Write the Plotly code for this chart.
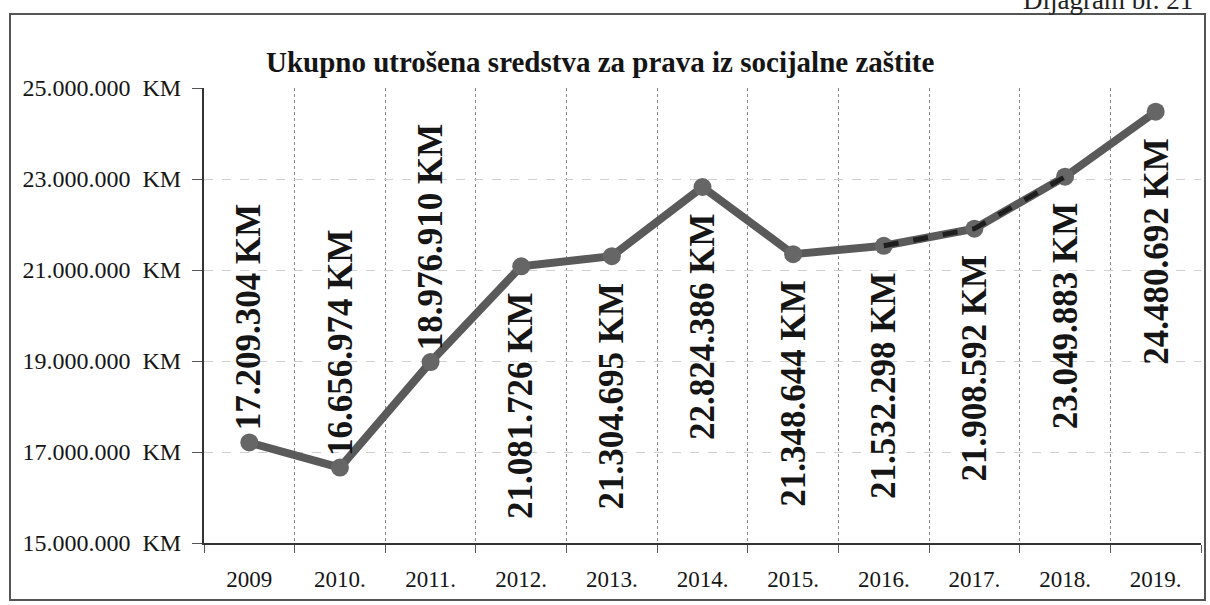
'''
    Line chart: total funds spent on social protection rights, 2009-2019.
'''
import plotly.graph_objects as go

YEARS = ['2009', '2010.', '2011.', '2012.', '2013.', '2014.',
         '2015.', '2016.', '2017.', '2018.', '2019.']
AMOUNTS = [17209304, 16656974, 18976910, 21081726, 21304695, 22824386,
           21348644, 21532298, 21908592, 23049883, 24480692]
Y_TICKS = [15000000, 17000000, 19000000, 21000000, 23000000, 25000000]

TITLE = 'Ukupno utrošena sredstva za prava iz socijalne zaštite'
SERIF = 'Liberation Serif, Times New Roman, serif'


def fmt_km(value):
    '''Formats a number the local way: 17.209.304 KM'''
    return f'{value:,}'.replace(',', '.') + ' KM'


def get_figure(years, amounts):
    '''
        Args: years, amounts: the series to display

        Returns:
            The figure to be displayed
    '''
    fig = go.Figure()

    fig.add_trace(go.Scatter(
        x=years,
        y=amounts,
        mode='lines+markers',
        line=dict(color='#5a5a5a', width=8),
        marker=dict(color='#666666', size=18),
        hoverinfo='skip',
    ))

    # darker dashed stretch visible on the scan between 2016 and 2018
    fig.add_trace(go.Scatter(
        x=years[7:10],
        y=amounts[7:10],
        mode='lines',
        line=dict(color='#1e1e1e', width=5, dash='dash'),
        hoverinfo='skip',
    ))

    # value labels, written vertically; x is the category index
    for i, amount in enumerate(amounts):
        above = i < 3
        fig.add_annotation(
            x=i,
            y=amount,
            text='<b>' + fmt_km(amount) + '</b>',
            textangle=-90,
            showarrow=False,
            xanchor='center',
            yanchor='bottom' if above else 'top',
            yshift=10 if above else -24,
            font=dict(family=SERIF, size=35, color='#151515'),
        )

    fig.update_layout(
        width=1210,
        height=605,
        margin=dict(l=204, r=9, t=88, b=62),
        paper_bgcolor='white',
        plot_bgcolor='white',
        showlegend=False,
        title={
            'text': '<b>' + TITLE + '</b>',
            'font': {'family': SERIF, 'size': 29, 'color': '#151515'},
            'x': 0.496,
            'xanchor': 'center',
            'y': 1 - 62 / 605,
            'yanchor': 'middle',
        },
    )

    fig.update_xaxes(
        type='category',
        range=[-0.5, len(years) - 0.5],
        automargin=False,
        tickson='boundaries',
        tickangle=0,
        showgrid=True,
        gridcolor='#8a8a8a',
        griddash='dot',
        gridwidth=1,
        showline=True,
        linecolor='#333333',
        linewidth=2,
        ticks='outside',
        ticklen=8,
        tickcolor='#555555',
        ticklabelstandoff=14,
        tickfont=dict(family=SERIF, size=23, color='#151515'),
    )

    fig.update_yaxes(
        range=[Y_TICKS[0], Y_TICKS[-1]],
        automargin=False,
        tickvals=Y_TICKS,
        ticktext=[f'{v:,}'.replace(',', '.') + '\u00a0\u00a0KM' for v in Y_TICKS],
        showgrid=True,
        gridcolor='#d0d0d0',
        griddash='dash',
        gridwidth=1,
        zeroline=False,
        showline=True,
        linecolor='#333333',
        linewidth=2,
        ticks='outside',
        ticklen=10,
        tickcolor='#555555',
        ticklabelstandoff=6,
        tickfont=dict(family=SERIF, size=24, color='#151515'),
    )

    # page frame around the chart, as on the scanned document
    fig.add_shape(
        type='rect', xref='paper', yref='paper',
        x0=(10 - 204) / 997, x1=(1205 - 204) / 997,
        y0=(543 - 600) / 455, y1=(543 - 14) / 455,
        line=dict(color='#555555', width=2),
        layer='below',
    )

    fig.add_annotation(
        xref='paper', yref='paper',
        x=(1195 - 204) / 997, y=(543 - 17) / 455,
        xanchor='right', yanchor='bottom',
        text='Dijagram br. 21',
        showarrow=False,
        font=dict(family=SERIF, size=27, color='#222222'),
    )

    return fig


fig = get_figure(YEARS, AMOUNTS)
# the page's default body margin would push the chart 8px off, drop it
fig.write_html(
    'out.html',
    config={'displayModeBar': False},
    post_script="document.body.style.margin = '0';",
)
